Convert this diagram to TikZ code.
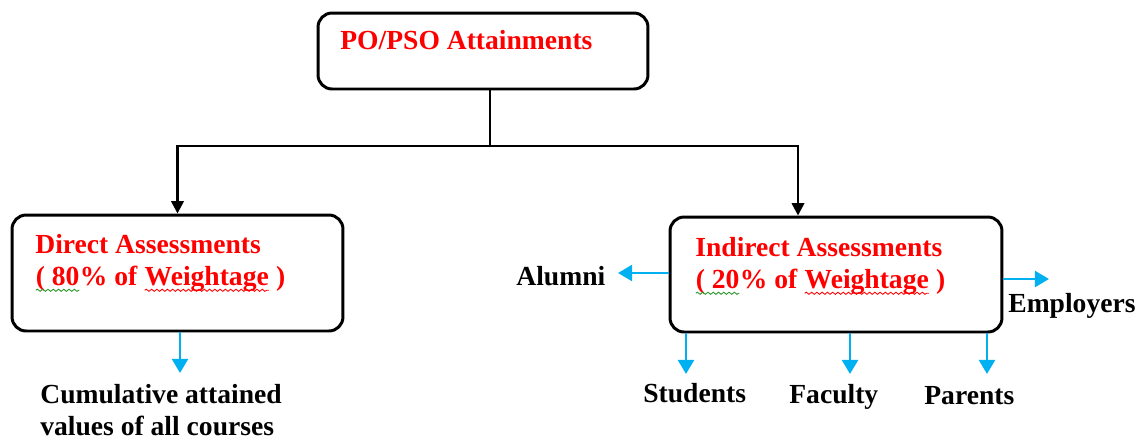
\documentclass[tikz,border=0pt]{standalone}
\usepackage{fontspec}
\setmainfont{Liberation Serif}
\usepackage{xcolor}
\usepackage{tikz}
\usetikzlibrary{arrows.meta}
\usetikzlibrary{positioning}
\usetikzlibrary{decorations.pathmorphing}
\definecolor{skyarrow}{RGB}{0,176,240}
\definecolor{spellgreen}{RGB}{40,150,40}
\newcommand\squig[2]{\tikz[baseline=(sq.base)]{\node[inner sep=0pt,outer sep=0pt,text=red] (sq) {#2};\draw[#1,line width=0.5pt,decorate,decoration={snake,amplitude=0.6pt,segment length=3pt}] ([yshift=-3pt]sq.base west) -- ([yshift=-3pt]sq.base east);}}
\tikzset{
    mybox/.style = {draw=black, line width=1.7pt, rounded corners=8pt, inner sep=0pt},
    mytextr/.style = {text=red, inner sep=0pt, align=left},
    mytext/.style = {text=black, inner sep=0pt, align=left},
    myarrow/.style = {line width=1.4pt, -{Triangle[length=7pt,width=7pt]}},
    myarrowb/.style = {draw=skyarrow, fill=skyarrow, line width=1.6pt, -{Triangle[length=8pt,width=9pt]}},
}
\begin{document}
\begin{tikzpicture}[
    x=0.02cm, y=-0.02cm,
    font=\bfseries\fontsize{15.7}{18.2}\selectfont
  ]
  \useasboundingbox (0,0) rectangle (1143,441);
  % boxes
  \node[mybox, minimum width=6.6cm, minimum height=1.52cm] (top) at (483,51) {};
  \node[mybox, minimum width=6.62cm, minimum height=2.32cm] (dir) at (177.5,273) {};
  \node[mybox, minimum width=6.64cm, minimum height=2.3cm] (ind) at (836,274.5) {};
  % texts in boxes (base = last line)
  \node[mytextr, anchor=base west] (toptext) at (340,49) {PO/PSO Attainments};
  \node[mytextr, anchor=base west] (dirtext) at (35,285)
    {Direct Assessments\\\squig{spellgreen}{( 80}\% of \squig{red}{Weightage} )};
  \node[mytextr, anchor=base west] (indtext) at (695,288)
    {Indirect Assessments\\\squig{spellgreen}{( 20}\% of \squig{red}{Weightage} )};
  % outer labels
  \node[mytext, anchor=base west] (cum) at (40,435) {Cumulative attained\\values of all courses};
  \node[mytext, anchor=base west] (alumni) at (516,285) {Alumni};
  \node[mytext, anchor=base west] (employers) at (1008,312) {Employers};
  \node[mytext, anchor=base west] (students) at (643,402) {Students};
  \node[mytext, anchor=base west] (faculty) at (789,403) {Faculty};
  \node[mytext, anchor=base west] (parents) at (924,404) {Parents};
  % tree connectors
  \coordinate (split) at (490,146);
  \draw[line width=1.4pt] (top.south -| split) -- (split);
  \draw[myarrow] (split) -| (dir.north);
  \draw[myarrow] (split) -| ([xshift=-0.76cm]ind.north);
  % blue arrows
  \coordinate (cumtip) at (180,373);
  \coordinate (alutip) at (618,273);
  \coordinate (emptip) at (1049,279);
  \coordinate (stutip) at (686,374);
  \coordinate (factip) at (850,374);
  \coordinate (partip) at (987,374);
  \draw[myarrowb] (cumtip |- dir.south) -- (cumtip);
  \draw[myarrowb] (alutip -| ind.west) -- (alutip);
  \draw[myarrowb] (emptip -| ind.east) -- (emptip);
  \draw[myarrowb] (stutip |- ind.south) -- (stutip);
  \draw[myarrowb] (factip |- ind.south) -- (factip);
  \draw[myarrowb] (partip |- ind.south) -- (partip);
\end{tikzpicture}
\end{document}
